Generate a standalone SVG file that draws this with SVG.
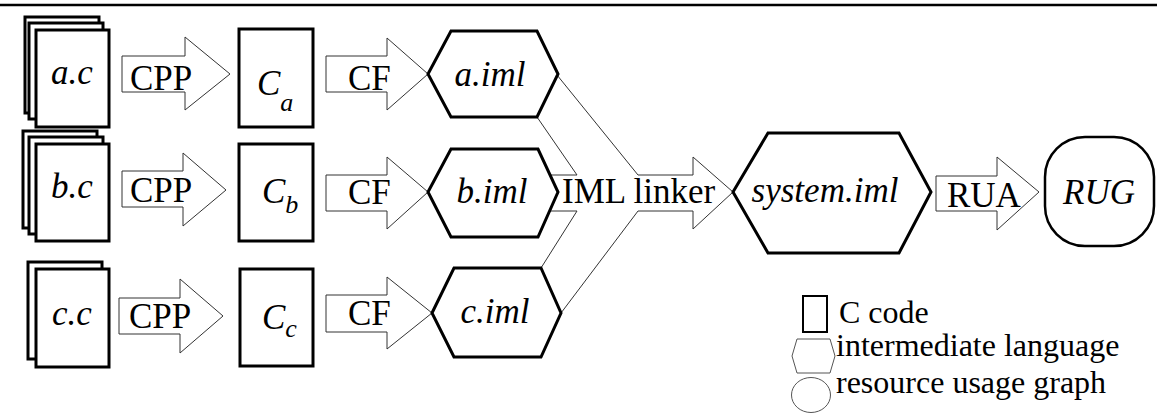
<svg xmlns="http://www.w3.org/2000/svg" width="1157" height="415" viewBox="0 0 1157 415">
  <style>
    .page { fill: #fff; stroke: #000; stroke-width: 3; }
    .hex { fill: #fff; stroke: #000; stroke-width: 3; stroke-linejoin: miter; }
    .arrow { fill: #fff; stroke: #333; stroke-width: 1; }
    .lg { fill: #fff; stroke: #555; stroke-width: 1; }
    text { font-family: "Liberation Serif", "Times New Roman", serif; fill: #000; }
    .t { font-size: 35px; }
    .i { font-style: italic; }
    .sub { font-size: 26px; }
    .leg { font-size: 32px; }
  </style>

  <!-- header rule -->
  <line x1="0" y1="5" x2="1157" y2="5" stroke="#000" stroke-width="2.5"/>

  <!-- connectors: preprocessing, front-end and analysis arrows, plus the linker funnel -->
  <g id="connectors">
    <polygon class="arrow" points="122,56 185,56 185,37 230,74 185,110 185,92 122,92"/>
    <polygon class="arrow" points="122,171 183,171 183,153 226,190 183,226 183,207 122,207"/>
    <polygon class="arrow" points="119,298 180,298 180,279 223,316 180,353 180,334 119,334"/>
    <polygon class="arrow" points="326,56 387,56 387,38 428,74 387,110 387,92 326,92"/>
    <polygon class="arrow" points="326,175 387,175 387,157 428,192 387,229 387,211 326,211"/>
    <polygon class="arrow" points="326,295 387,295 387,277 432,313 387,349 387,332 326,332"/>
    <polygon class="arrow" points="557,75 638,175 693,175 693,157 733,192 693,229 693,211 638,211 561,313 541,268 577,211 549,211 549,175 577,175 537,117"/>
    <polygon class="arrow" points="936,176 997,176 997,157 1039,192 997,230 997,211 936,211"/>
    <text class="t" x="130" y="90">CPP</text>
    <text class="t" x="130" y="202">CPP</text>
    <text class="t" x="129" y="328">CPP</text>
    <text class="t" x="348" y="90">CF</text>
    <text class="t" x="348" y="204">CF</text>
    <text class="t" x="348" y="325">CF</text>
    <text class="t" x="562" y="203" font-size="36">IML linker</text>
    <text class="t" x="947" y="207">RUA</text>
  </g>

  <!-- source files (stacked pages) -->
  <g id="src-a">
    <rect class="page" x="25" y="17" width="74" height="96"/>
    <rect class="page" x="29" y="23" width="74" height="96"/>
    <rect class="page" x="36" y="30" width="73" height="97"/>
    <text class="t i" x="72" y="84" text-anchor="middle">a.c</text>
  </g>
  <g id="src-b">
    <rect class="page" x="23" y="131" width="74" height="97"/>
    <rect class="page" x="29" y="137" width="74" height="97"/>
    <rect class="page" x="36" y="144" width="73" height="97"/>
    <text class="t i" x="72" y="198" text-anchor="middle">b.c</text>
  </g>
  <g id="src-c">
    <rect class="page" x="28" y="262" width="74" height="97"/>
    <rect class="page" x="36" y="269" width="73" height="98"/>
    <text class="t i" x="72" y="325" text-anchor="middle">c.c</text>
  </g>

  <!-- preprocessed C code -->
  <g id="ca">
    <rect class="page" x="239" y="29" width="74" height="98"/>
    <text class="t i" x="257" y="95">C<tspan class="sub" dy="16">a</tspan></text>
  </g>
  <g id="cb">
    <rect class="page" x="239" y="144" width="74" height="97"/>
    <text class="t i" x="262" y="203">C<tspan class="sub" dy="10">b</tspan></text>
  </g>
  <g id="cc">
    <rect class="page" x="240" y="269" width="73" height="97"/>
    <text class="t i" x="262" y="329">C<tspan class="sub" dy="8">c</tspan></text>
  </g>

  <!-- intermediate language modules -->
  <g id="a-iml">
    <polygon class="hex" points="428,74 451,31 537,31 558,74 537,117 451,117"/>
    <text class="t i" x="490" y="86" text-anchor="middle">a.iml</text>
  </g>
  <g id="b-iml">
    <polygon class="hex" points="428,192 451,149 538,149 558,192 538,237 451,237"/>
    <text class="t i" x="492" y="203" text-anchor="middle">b.iml</text>
  </g>
  <g id="c-iml">
    <polygon class="hex" points="432,313 454,268 541,268 561,313 541,357 454,357"/>
    <text class="t i" x="495" y="323" text-anchor="middle">c.iml</text>
  </g>
  <g id="system-iml">
    <polygon class="hex" points="733,192 768,133 899,133 931,192 899,253 768,253"/>
    <text class="t i" x="825" y="202" text-anchor="middle" font-size="36">system.iml</text>
  </g>

  <!-- resource usage graph -->
  <g id="rug">
    <rect x="1045" y="137" width="109" height="109" rx="40" ry="40" fill="#fff" stroke="#000" stroke-width="2.5"/>
    <text class="t i" x="1099" y="204" text-anchor="middle">RUG</text>
  </g>

  <!-- legend -->
  <g id="legend">
    <rect x="803" y="296" width="24" height="36" fill="#fff" stroke="#000" stroke-width="2"/>
    <text class="leg" x="839" y="323">C code</text>
    <polygon class="lg" points="792,356 797,339 830,339 835,356 830,373 797,373"/>
    <text class="leg" x="836" y="356">intermediate language</text>
    <ellipse class="lg" cx="811" cy="395" rx="19.5" ry="17.5"/>
    <text class="leg" x="836" y="393">resource usage graph</text>
  </g>
</svg>
